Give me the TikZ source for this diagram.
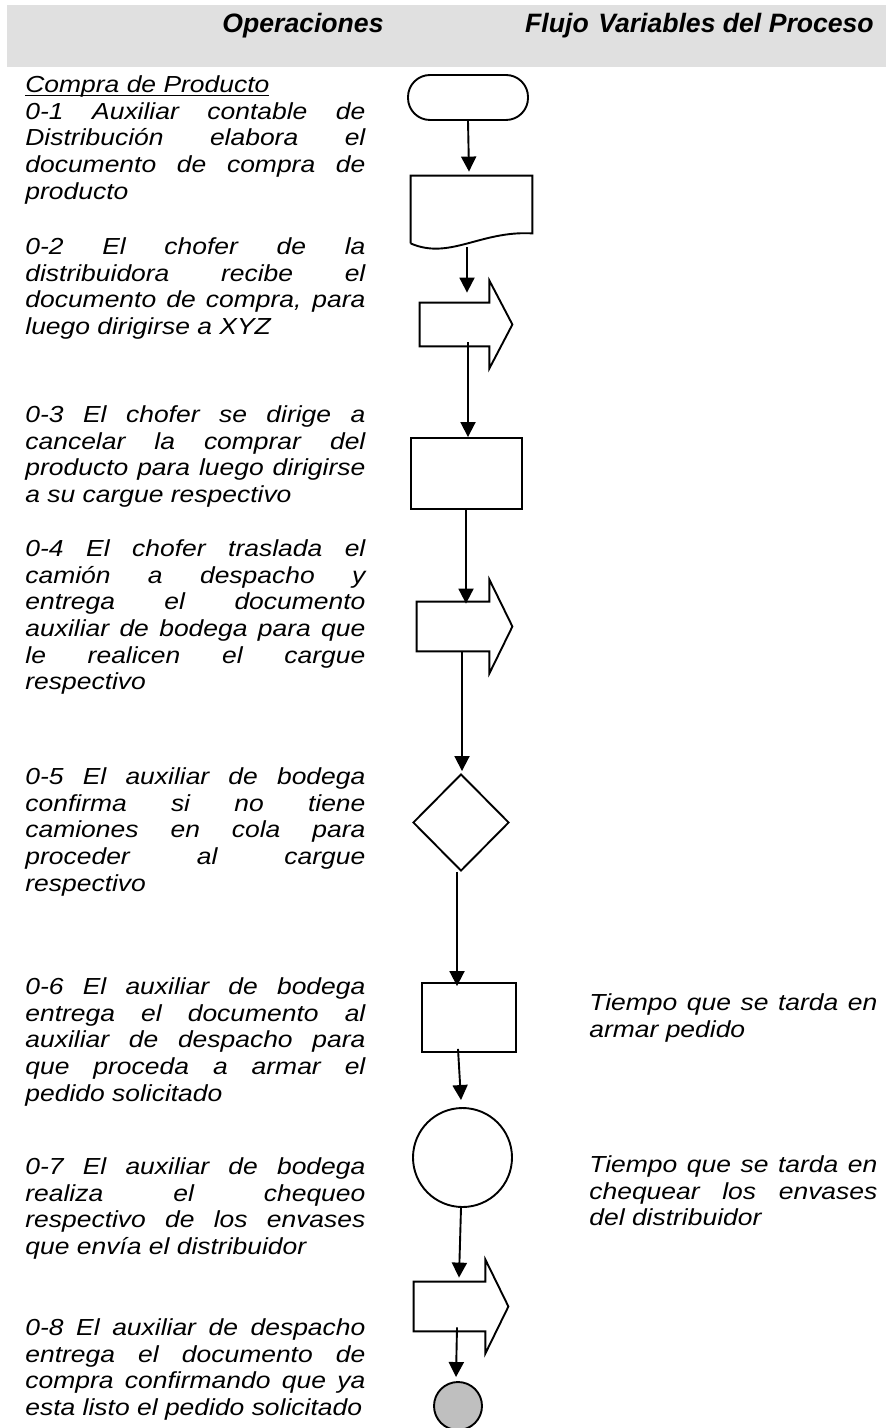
\documentclass[tikz,border=0pt]{standalone}
\usepackage{fontspec}
\setmainfont{Liberation Sans}[FakeStretch=1.14]
\newfontfamily\cabecera{Liberation Sans}
\usetikzlibrary{arrows.meta,shapes.geometric}
\setlength{\parindent}{0pt}
\hbadness=10000
\newcommand*{\subrayado}[1]{$\underline{\smash{\hbox{#1}}}$}
\newcommand*{\envio}[4]{%
  \node [cuerpo, minimum width=#3, minimum height=#4] (#1) at (#2) {};
  \draw [forma] (#1.north east) -- (#1.north west) -- (#1.south west) -- (#1.south east)
    -- ++(0,22) -- ([xshift=11.5pt]#1.east) -- ([yshift=11pt]#1.north east) -- cycle;
}

\begin{document}
\begin{tikzpicture}[x=0.5pt, y=-0.5pt,
  forma/.style = {draw, line width=0.95pt},
  cuerpo/.style = {rectangle, inner sep=0pt},
  flecha/.style = {line width=0.95pt, -{Triangle[length=7.5pt,width=7.5pt]}},
  texto/.style = {anchor=north west, inner sep=0pt, text width=170pt, align=justify,
    font=\fontsize{11.6}{13.35}\selectfont\itshape},
  encabezado/.style = {anchor=base, inner sep=0pt, font=\cabecera\fontsize{13.3}{15}\selectfont\bfseries\itshape}]
  \useasboundingbox (0,0) rectangle (886,1428);
  % encabezado de la tabla
  \fill[black!12] (7,5) rectangle (886,67);
  \node[encabezado] (tOper) at (303,33) {Operaciones};
  \node[encabezado] (tFlujo) at (557,33) {Flujo};
  \node[encabezado] (tVar) at (736,33) {Variables del Proceso};

  % simbolos del flujo
  \node[forma, rectangle, rounded corners=11pt, inner sep=0pt, minimum width=60pt, minimum height=22.5pt] (inicio) at (468,97.5) {};
  \node[cuerpo, minimum width=60.5pt, minimum height=33.5pt] (docu) at (471.5,209.5) {};
  \draw[forma] (docu.south west) -- (docu.north west) -- (docu.north east) -- ([yshift=5pt]docu.south east)
    .. controls +(-52,-3) and +(39,17) .. (docu.south west);
  \envio{envio1}{454.5,324.5}{34.5pt}{21.5pt}
  \node[forma, rectangle, inner sep=0pt, minimum width=55.5pt, minimum height=35.5pt] (proceso1) at (466.5,473.5) {};
  \envio{envio2}{453,626.5}{36pt}{24.5pt}
  \node[forma, diamond, inner sep=0pt, minimum width=48pt, minimum height=48.5pt] (decision) at (461,822.5) {};
  \node[forma, rectangle, inner sep=0pt, minimum width=47pt, minimum height=34.5pt] (proceso2) at (469,1017.5) {};
  \node[forma, circle, inner sep=0pt, minimum size=49.5pt] (inspeccion) at (462.5,1157.5) {};
  \envio{envio3}{449.5,1306.5}{35.5pt}{24.5pt}
  \node[forma, circle, fill=black!25, inner sep=0pt, minimum size=24pt] (fin) at (458,1406) {};

  % conectores
  \draw[flecha] (inicio.south) -- ([xshift=-1.25pt,yshift=2pt]docu.north);
  \draw[flecha] ([xshift=-2.25pt,yshift=-2pt]docu.south) -- ([xshift=6.25pt,yshift=5pt]envio1.north);
  \draw[flecha] ([xshift=6.75pt,yshift=2pt]envio1.south) -- ([xshift=0.75pt]proceso1.north);
  \draw[flecha] ([xshift=-0.25pt]proceso1.south) -- ([xshift=6.5pt,yshift=-1pt]envio2.north);
  \draw[flecha] ([xshift=4.5pt]envio2.south) -- ([xshift=0.5pt,yshift=1pt]decision.north);
  \draw[flecha] ([xshift=-2pt]decision.south) -- ([xshift=-6pt,yshift=-2pt]proceso2.north);
  \draw[flecha] ([xshift=-5.5pt,yshift=2pt]proceso2.south) -- ([xshift=-0.75pt,yshift=3.5pt]inspeccion.north);
  \draw[flecha] ([xshift=-0.75pt]inspeccion.south) -- ([xshift=4.75pt,yshift=2pt]envio3.north);
  \draw[flecha] ([xshift=3.75pt,yshift=2pt]envio3.south) -- ([xshift=-1pt,yshift=2pt]fin.north);

  % operaciones
  \node[texto] (p01) at (25,71) {\rule{0pt}{10.5pt}\subrayado{Compra de Producto}\\
    0-1 Auxiliar contable de\linebreak
    Distribución elabora el\linebreak
    documento de compra de\linebreak
    producto};
  \node[texto] (p02) at (25,233) {\rule{0pt}{10.5pt}0-2 El chofer de la\linebreak
    distribuidora recibe el\linebreak
    documento de compra, para\linebreak
    luego dirigirse a XYZ};
  \node[texto] (p03) at (25,401) {\rule{0pt}{10.5pt}0-3 El chofer se dirige a\linebreak
    cancelar la comprar del\linebreak
    producto para luego dirigirse\linebreak
    a su cargue respectivo};
  \node[texto] (p04) at (25,535) {\rule{0pt}{10.5pt}0-4 El chofer traslada el\linebreak
    camión a despacho y\linebreak
    entrega el documento\linebreak
    auxiliar de bodega para que\linebreak
    le realicen el cargue\linebreak
    respectivo};
  \node[texto] (p05) at (25,763) {\rule{0pt}{10.5pt}0-5 El auxiliar de bodega\linebreak
    confirma si no tiene\linebreak
    camiones en cola para\linebreak
    proceder al cargue\linebreak
    respectivo};
  \node[texto] (p06) at (25,973) {\rule{0pt}{10.5pt}0-6 El auxiliar de bodega\linebreak
    entrega el documento al\linebreak
    auxiliar de despacho para\linebreak
    que proceda a armar el\linebreak
    pedido solicitado};
  \node[texto] (p07) at (25,1153) {\rule{0pt}{10.5pt}0-7 El auxiliar de bodega\linebreak
    realiza el chequeo\linebreak
    respectivo de los envases\linebreak
    que envía el distribuidor};
  \node[texto] (p08) at (25,1314) {\rule{0pt}{10.5pt}0-8 El auxiliar de despacho\linebreak
    entrega el documento de\linebreak
    compra confirmando que ya\linebreak
    esta listo el pedido solicitado};

  % variables del proceso
  \node[texto, text width=144pt] (var06) at (589,989) {\rule{0pt}{10.5pt}Tiempo que se tarda en\linebreak
    armar pedido};
  \node[texto, text width=144pt] (var07) at (589,1151) {\rule{0pt}{10.5pt}Tiempo que se tarda en\linebreak
    chequear los envases\linebreak
    del distribuidor};
\end{tikzpicture}
\end{document}
